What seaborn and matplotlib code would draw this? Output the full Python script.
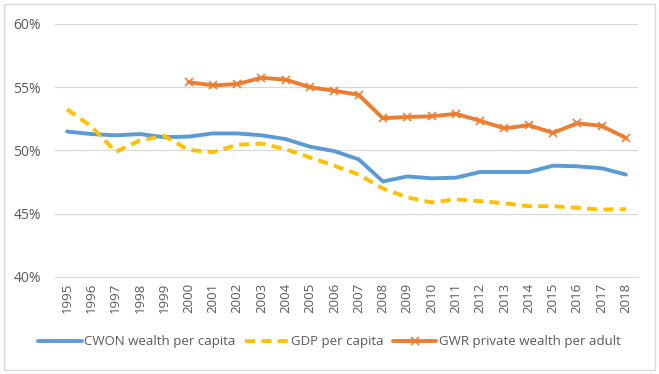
import numpy as np
import pandas as pd
import matplotlib.pyplot as plt
import matplotlib.patches as mpatches
import seaborn as sns

years = [str(y) for y in range(1995, 2019)]

cwon = [51.5, 51.3, 51.2, 51.3, 51.05, 51.1, 51.35, 51.35, 51.2, 50.9, 50.3, 49.95,
        49.3, 47.55, 47.95, 47.8, 47.85, 48.3, 48.3, 48.3, 48.8, 48.75, 48.6, 48.1]
gdp = [53.25, 51.9, 49.9, 50.8, 51.15, 50.05, 49.87, 50.45, 50.55, 50.1, 49.45, 48.8,
       48.1, 47.0, 46.3, 45.9, 46.13, 46.0, 45.83, 45.6, 45.6, 45.47, 45.33, 45.37]
gwr = [np.nan] * 5 + [55.4, 55.15, 55.25, 55.75, 55.6, 55.0, 54.72, 54.4, 52.55, 52.65,
                      52.7, 52.9, 52.35, 51.75, 52.0, 51.4, 52.15, 51.95, 51.0]

labels = ["CWON wealth per capita", "GDP per capita", "GWR private wealth per adult"]
colors = ["#5B9BD5", "#FFC000", "#ED7D31"]

df = pd.DataFrame({"pos": np.arange(len(years)), "cwon": cwon, "gdp": gdp, "gwr": gwr})

sns.set_style("white")
plt.rcParams["font.family"] = ["Open Sans", "DejaVu Sans"]

fig = plt.figure(figsize=(6.59, 3.74), dpi=100)
ax = fig.add_axes([55 / 659, 1 - 277 / 374, (638 - 55) / 659, (277 - 24) / 374])

sns.lineplot(data=df, x="pos", y="cwon", ax=ax, color=colors[0], lw=2.8,
             label=labels[0])
sns.lineplot(data=df, x="pos", y="gdp", ax=ax, color=colors[1], lw=2.8,
             label=labels[1])
sns.lineplot(data=df, x="pos", y="gwr", ax=ax, color=colors[2], lw=2.8,
             marker="x", markersize=6, markeredgewidth=1.2,
             markeredgecolor=colors[2], label=labels[2])

# style lines by colour
for ln in ax.lines:
    c = ln.get_color()
    if c == colors[1]:
        ln.set_linestyle((0, (2.6, 1.6)))
    else:
        ln.set_linestyle("-")

ax.set_xlim(-0.5, len(years) - 0.5)
ax.set_ylim(40, 60)
ax.set_yticks([40, 45, 50, 55, 60])
ax.set_yticklabels([f"{v}%" for v in [40, 45, 50, 55, 60]])
ax.set_xticks(np.arange(len(years)))
ax.set_xticklabels(years, rotation=90)
ax.tick_params(axis="both", length=0, labelsize=9.5, colors="#595959", pad=4)
ax.tick_params(axis="y", labelsize=10, pad=10)
ax.grid(axis="y", color="#D9D9D9", lw=0.9)
ax.grid(axis="x", visible=False)
ax.set_xlabel("")
ax.set_ylabel("")
for s in ax.spines.values():
    s.set_visible(False)
ax.spines["bottom"].set_visible(True)
ax.spines["bottom"].set_color("#D9D9D9")
ax.spines["bottom"].set_linewidth(0.9)

handles, _ = ax.get_legend_handles_labels()
for h in handles:
    if h.get_color() == colors[1]:
        h.set_linestyle((0, (2.6, 1.6)))
    else:
        h.set_linestyle("-")
leg = ax.legend(handles, labels, loc="center", bbox_to_anchor=(0.5, (374 - 342) / 374),
                bbox_transform=fig.transFigure, ncol=3, frameon=False, fontsize=9.5,
                handlelength=3.3, columnspacing=0.7, handletextpad=0.2,
                labelcolor="#595959")

fig.patches.append(mpatches.Rectangle((4 / 659, 4 / 374), 651 / 659, 366 / 374,
                                      transform=fig.transFigure, fill=False,
                                      edgecolor="#D9D9D9", lw=1))

fig.savefig("out.png", dpi=100)
